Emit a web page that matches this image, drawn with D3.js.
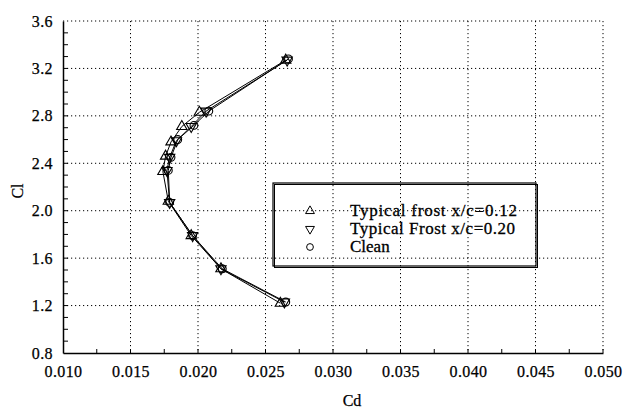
<!DOCTYPE html>
<html><head><meta charset="utf-8">
<script src="https://cdn.jsdelivr.net/npm/d3@7"></script>
<style>body{margin:0;background:#fff}svg{display:block}text{font-family:"Liberation Serif","Times New Roman",serif;fill:#000}</style>
</head><body><svg id="c" width="624" height="413"></svg>
<script>
const xTicks = [0.010,0.015,0.020,0.025,0.030,0.035,0.040,0.045,0.050];
const yTicks = [0.8,1.2,1.6,2.0,2.4,2.8,3.2,3.6];
const seriesNames = ["Typical frost x/c=0.12","Typical Frost x/c=0.20","Clean"];
const frost12Cd = [0.0261,0.0217,0.0195,0.0178,0.0174,0.0176,0.0180,0.0188,0.0201,0.0265];
const frost12Cl = [1.22,1.51,1.79,2.08,2.33,2.46,2.58,2.71,2.83,3.27];
const frost20Cd = [0.0264,0.0217,0.0196,0.0179,0.0177,0.0179,0.0184,0.0195,0.0206,0.0266];
const frost20Cl = [1.23,1.51,1.79,2.07,2.34,2.45,2.59,2.71,2.84,3.27];
const cleanCd = [0.0265,0.0218,0.0196,0.0179,0.0178,0.0180,0.0185,0.0197,0.0208,0.0267];
const cleanCl = [1.23,1.51,1.79,2.07,2.34,2.45,2.60,2.72,2.84,3.28];

const svg = d3.select("#c");
const L=63,R=603,T=21,B=353;
const x = d3.scaleLinear().domain([0.010,0.050]).range([L,R]);
const y = d3.scaleLinear().domain([0.8,3.6]).range([B,T]);

// grid
const g = svg.append("g");
g.selectAll(".vg").data(xTicks.slice(1)).enter().append("line")
 .attr("x1",d=>x(d)).attr("x2",d=>x(d)).attr("y1",T).attr("y2",B)
 .attr("stroke","#000").attr("stroke-width",1).attr("stroke-dasharray","1.2,2.8");
g.selectAll(".hg").data(yTicks.slice(1)).enter().append("line")
 .attr("x1",L).attr("x2",R).attr("y1",d=>y(d)).attr("y2",d=>y(d))
 .attr("stroke","#000").attr("stroke-width",1).attr("stroke-dasharray","1.2,2.8");

// axes
const xAxis = d3.axisBottom(x).tickValues(xTicks).tickSize(0).tickPadding(13).tickFormat(d3.format(".3f"));
const yAxis = d3.axisLeft(y).tickValues(yTicks).tickSize(0).tickPadding(10).tickFormat(d3.format(".1f"));
const gx = svg.append("g").attr("transform",`translate(0,${B})`).call(xAxis);
const gy = svg.append("g").attr("transform",`translate(${L},0)`).call(yAxis);
[gx,gy].forEach(a=>{a.select(".domain").attr("stroke","#000").attr("stroke-width",1.5);
 a.selectAll("text").style("font-family","Liberation Serif").style("font-size","16px")
  .style("letter-spacing","0.4px").attr("fill","#000").attr("stroke","#000").attr("stroke-width",0.25);});
// minor ticks inward
const xMinor = d3.range(0.0125,0.050,0.0025);
svg.append("g").selectAll("line").data(xMinor).enter().append("line")
 .attr("x1",d=>x(d)).attr("x2",d=>x(d)).attr("y1",B).attr("y2",B-4)
 .attr("stroke","#000");
const yMinor = d3.range(0.9,3.6,0.1);
svg.append("g").selectAll("line").data(yMinor).enter().append("line")
 .attr("x1",L).attr("x2",L+5).attr("y1",d=>y(d)).attr("y2",d=>y(d))
 .attr("stroke","#000");

// axis titles
svg.append("text").attr("x",352).attr("y",406).attr("text-anchor","middle").style("font-size","16px")
 .attr("stroke","#000").attr("stroke-width",0.25).text("Cd");
svg.append("text").attr("transform",`translate(23,191) rotate(-90)`).attr("text-anchor","middle").style("font-size","16px")
 .attr("stroke","#000").attr("stroke-width",0.25).text("Cl");

// series
const series = [
 {name:seriesNames[0],cd:frost12Cd,cl:frost12Cl,sym:d3.symbolTriangle,rot:0},
 {name:seriesNames[1],cd:frost20Cd,cl:frost20Cl,sym:d3.symbolTriangle,rot:180},
 {name:seriesNames[2],cd:cleanCd,cl:cleanCl,sym:d3.symbolCircle,rot:0}
];
const line = d3.line().x(d=>x(d[0])).y(d=>y(d[1]));
series.forEach(s=>{
 const pts = s.cd.map((c,i)=>[c,s.cl[i]]);
 svg.append("path").attr("d",line(pts)).attr("fill","none").attr("stroke","#000").attr("stroke-width",1);
});
series.forEach(s=>{
 const pts = s.cd.map((c,i)=>[c,s.cl[i]]);
 svg.append("g").selectAll("path").data(pts).enter().append("path")
  .attr("d",d3.symbol().type(s.sym).size(s.sym===d3.symbolCircle?48:46))
  .attr("transform",d=>`translate(${x(d[0])},${y(d[1])}) rotate(${s.rot})`)
  .attr("fill","none").attr("stroke","#000").attr("stroke-width",1.1);
});

// legend
const lg = svg.append("g");
lg.append("rect").attr("x",274.5).attr("y",184.5).attr("width",263).attr("height",83)
 .attr("fill","none").attr("stroke","#000").attr("stroke-width",1);
lg.append("rect").attr("x",273).attr("y",183).attr("width",263).attr("height",83)
 .attr("fill","none").attr("stroke","#000").attr("stroke-width",1.2);
const widths = [167,165,null];
series.forEach((s,i)=>{
 const cy = 211 + i*18;
 lg.append("path").attr("d",d3.symbol().type(s.sym).size(s.sym===d3.symbolCircle?36:34))
  .attr("transform",`translate(310,${cy}) rotate(${s.rot})`).attr("fill","none").attr("stroke","#000");
 const t = lg.append("text").attr("x",350).attr("y",cy+5).style("font-size","17px")
  .attr("stroke","#000").attr("stroke-width",0.3).text(s.name);
 if (widths[i]) t.attr("textLength",widths[i]).attr("lengthAdjust","spacing");
});
</script></body></html>
